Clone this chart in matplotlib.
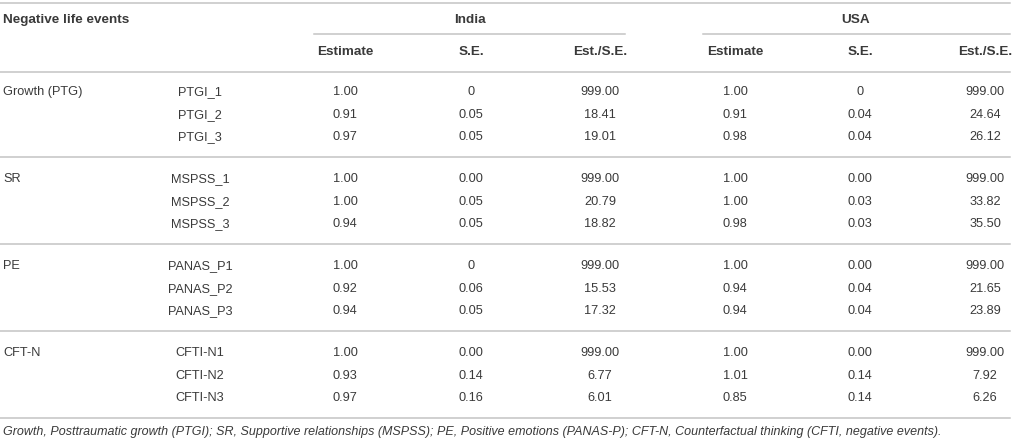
import matplotlib.pyplot as plt

# table content
groups = ["Growth (PTG)", "SR", "PE", "CFT-N"]
items = [
    ["PTGI_1", "PTGI_2", "PTGI_3"],
    ["MSPSS_1", "MSPSS_2", "MSPSS_3"],
    ["PANAS_P1", "PANAS_P2", "PANAS_P3"],
    ["CFTI-N1", "CFTI-N2", "CFTI-N3"],
]
india_est = ["1.00", "0.91", "0.97", "1.00", "1.00", "0.94", "1.00", "0.92", "0.94", "1.00", "0.93", "0.97"]
india_se = ["0", "0.05", "0.05", "0.00", "0.05", "0.05", "0", "0.06", "0.05", "0.00", "0.14", "0.16"]
india_ratio = ["999.00", "18.41", "19.01", "999.00", "20.79", "18.82", "999.00", "15.53", "17.32", "999.00", "6.77", "6.01"]
usa_est = ["1.00", "0.91", "0.98", "1.00", "1.00", "0.98", "1.00", "0.94", "0.94", "1.00", "1.01", "0.85"]
usa_se = ["0", "0.04", "0.04", "0.00", "0.03", "0.03", "0.00", "0.04", "0.04", "0.00", "0.14", "0.14"]
usa_ratio = ["999.00", "24.64", "26.12", "999.00", "33.82", "35.50", "999.00", "21.65", "23.89", "999.00", "7.92", "6.26"]

col_heads = ["Estimate", "S.E.", "Est./S.E.", "Estimate", "S.E.", "Est./S.E."]
footnote = ("Growth, Posttraumatic growth (PTGI); SR, Supportive relationships (MSPSS); "
            "PE, Positive emotions (PANAS-P); CFT-N, Counterfactual thinking (CFTI, negative events).")

plt.rcParams['font.family'] = ['Liberation Sans', 'DejaVu Sans']
txt = '#3a3a3a'
rule = '#c4c4c4'
fs = 9.2
fs_b = 9.7

fig = plt.figure(figsize=(10.15, 4.42), dpi=100)
ax = fig.add_axes([0, 0, 1, 1])
ax.set_xlim(0, 1015)
ax.set_ylim(442, 0)
ax.axis('off')

W = 1010
# horizontal rules
ax.plot([0, W], [3, 3], color=rule, lw=1.1)
ax.plot([314, 625], [34, 34], color=rule, lw=1.1)
ax.plot([703, W], [34, 34], color=rule, lw=1.1)
ax.plot([0, W], [72, 72], color=rule, lw=1.1)

# headers
ax.text(3, 20, "Negative life events", fontsize=fs_b, fontweight='bold', color=txt, va='center')
ax.text(470, 20, "India", fontsize=fs_b, fontweight='bold', color=txt, va='center', ha='center')
ax.text(856, 20, "USA", fontsize=fs_b, fontweight='bold', color=txt, va='center', ha='center')

col_x = [345, 471, 600, 735, 860, 985]
for x, h in zip(col_x, col_heads):
    ax.text(x, 52, h, fontsize=fs_b, fontweight='bold', color=txt, va='center', ha='center')

# body
cols = [india_est, india_se, india_ratio, usa_est, usa_se, usa_ratio]
y0 = 92
row_h = 22.7
group_h = 87
k = 0
for g, grp in enumerate(groups):
    gy = y0 + g * group_h
    ax.text(3, gy, grp, fontsize=fs, color=txt, va='center')
    for r, it in enumerate(items[g]):
        y = gy + r * row_h
        ax.text(200, y, it, fontsize=fs, color=txt, va='center', ha='center')
        for x, c in zip(col_x, cols):
            ax.text(x, y, c[k], fontsize=fs, color=txt, va='center', ha='center')
        k += 1
    ly = gy + 65
    ax.plot([0, W], [ly, ly], color=rule, lw=1.1)

ax.text(3, 432, footnote, fontsize=9.0, style='italic', color=txt, va='center')

plt.savefig("out.png", dpi=100)
